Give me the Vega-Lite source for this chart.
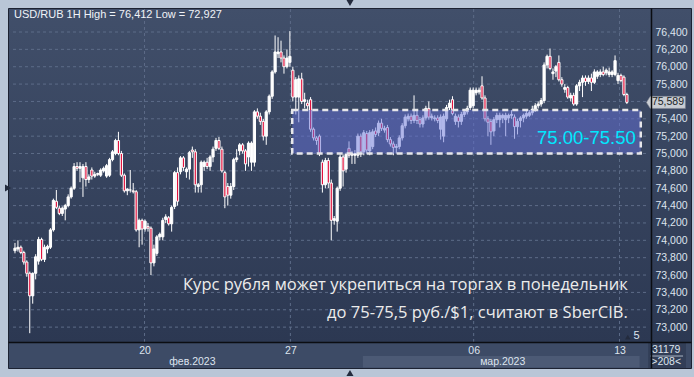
{
"$schema": "https://vega.github.io/schema/vega-lite/v6.json",
"width": 683, "height": 360,
"autosize": {"type": "none"},
"padding": {"left": 8, "top": 8, "right": 3, "bottom": 9},
"background": "#b9c6d7",
"config": {
  "view": {"stroke": "#1c2232", "strokeWidth": 1, "fill": {"gradient": "linear", "x1": 0, "y1": 0, "x2": 0, "y2": 1, "stops": [{"offset": 0, "color": "#414f6a"}, {"offset": 0.9278, "color": "#2c3852"}, {"offset": 0.9279, "color": "#3d4b66"}, {"offset": 1, "color": "#3d4b66"}]}},
  "locale": {"number": {"decimal": ",", "thousands": " ", "grouping": [3], "currency": ["", ""]}},
  "font": "Liberation Sans"
},
"resolve": {"axis": {"x": "independent", "y": "independent"}},
"datasets": {
"candles": [
{"i":0,"o":73.88,"h":73.97,"l":73.85,"c":73.91},
{"i":1,"o":73.90,"h":74.00,"l":73.87,"c":73.92},
{"i":2,"o":73.92,"h":73.94,"l":73.84,"c":73.86},
{"i":3,"o":73.86,"h":73.88,"l":73.72,"c":73.75},
{"i":4,"o":73.75,"h":73.77,"l":73.58,"c":73.62},
{"i":5,"o":73.62,"h":73.64,"l":72.93,"c":73.36},
{"i":6,"o":73.36,"h":73.63,"l":73.27,"c":73.62},
{"i":7,"o":73.62,"h":73.84,"l":73.55,"c":73.81},
{"i":8,"o":73.76,"h":74.04,"l":73.72,"c":74.01},
{"i":9,"o":74.01,"h":74.03,"l":73.76,"c":73.78},
{"i":10,"o":73.78,"h":73.95,"l":73.75,"c":73.92},
{"i":11,"o":73.90,"h":73.95,"l":73.85,"c":73.93},
{"i":12,"o":73.92,"h":74.14,"l":73.90,"c":74.12},
{"i":13,"o":74.12,"h":74.48,"l":74.10,"c":74.46},
{"i":14,"o":74.45,"h":74.58,"l":74.36,"c":74.38},
{"i":15,"o":74.37,"h":74.40,"l":74.29,"c":74.31},
{"i":16,"o":74.31,"h":74.39,"l":74.28,"c":74.37},
{"i":17,"o":74.36,"h":74.42,"l":74.23,"c":74.40},
{"i":18,"o":74.40,"h":74.53,"l":74.38,"c":74.50},
{"i":19,"o":74.50,"h":74.62,"l":74.48,"c":74.60},
{"i":20,"o":74.60,"h":74.89,"l":74.58,"c":74.85},
{"i":21,"o":74.85,"h":74.90,"l":74.80,"c":74.83},
{"i":22,"o":74.83,"h":74.90,"l":74.67,"c":74.85},
{"i":23,"o":74.72,"h":74.88,"l":74.50,"c":74.85},
{"i":24,"o":74.85,"h":74.90,"l":74.62,"c":74.70},
{"i":25,"o":74.70,"h":74.76,"l":74.66,"c":74.73},
{"i":26,"o":74.81,"h":74.84,"l":74.70,"c":74.74},
{"i":27,"o":74.74,"h":74.79,"l":74.72,"c":74.76},
{"i":28,"o":74.76,"h":74.78,"l":74.74,"c":74.77},
{"i":29,"o":74.75,"h":74.83,"l":74.73,"c":74.81},
{"i":30,"o":74.80,"h":74.85,"l":74.78,"c":74.83},
{"i":31,"o":74.74,"h":74.88,"l":74.72,"c":74.86},
{"i":32,"o":74.75,"h":74.95,"l":74.73,"c":74.93},
{"i":33,"o":74.93,"h":75.04,"l":74.91,"c":75.02},
{"i":34,"o":75.00,"h":75.17,"l":74.98,"c":75.15},
{"i":35,"o":75.15,"h":75.25,"l":74.98,"c":75.00},
{"i":36,"o":75.00,"h":75.03,"l":74.73,"c":74.75},
{"i":37,"o":74.75,"h":74.77,"l":74.55,"c":74.57},
{"i":38,"o":74.57,"h":74.60,"l":74.52,"c":74.59},
{"i":39,"o":74.58,"h":74.81,"l":74.55,"c":74.58},
{"i":40,"o":74.57,"h":74.66,"l":74.54,"c":74.56},
{"i":41,"o":74.56,"h":74.58,"l":74.10,"c":74.12},
{"i":42,"o":74.12,"h":74.25,"l":73.92,"c":74.23},
{"i":43,"o":74.23,"h":74.25,"l":73.95,"c":74.13},
{"i":44,"o":74.13,"h":74.24,"l":74.10,"c":74.22},
{"i":45,"o":74.16,"h":74.20,"l":74.10,"c":74.14},
{"i":46,"o":74.14,"h":74.16,"l":73.60,"c":73.74},
{"i":47,"o":73.74,"h":73.95,"l":73.70,"c":73.90},
{"i":48,"o":73.85,"h":74.06,"l":73.82,"c":74.04},
{"i":49,"o":74.04,"h":74.09,"l":74.00,"c":74.07},
{"i":50,"o":74.04,"h":74.26,"l":74.00,"c":74.23},
{"i":51,"o":74.24,"h":74.30,"l":74.20,"c":74.27},
{"i":52,"o":74.26,"h":74.28,"l":74.17,"c":74.19},
{"i":53,"o":74.19,"h":74.40,"l":74.10,"c":74.38},
{"i":54,"o":74.39,"h":74.80,"l":74.36,"c":74.78},
{"i":55,"o":74.78,"h":74.84,"l":74.40,"c":74.45},
{"i":56,"o":74.79,"h":74.97,"l":74.76,"c":74.95},
{"i":57,"o":74.95,"h":74.97,"l":74.80,"c":74.84},
{"i":58,"o":74.79,"h":74.84,"l":74.72,"c":74.82},
{"i":59,"o":74.82,"h":75.03,"l":74.70,"c":75.01},
{"i":60,"o":75.04,"h":75.08,"l":74.95,"c":75.02},
{"i":61,"o":75.02,"h":75.05,"l":74.55,"c":74.64},
{"i":62,"o":74.62,"h":74.66,"l":74.55,"c":74.64},
{"i":63,"o":74.64,"h":74.92,"l":74.55,"c":74.90},
{"i":64,"o":74.85,"h":74.92,"l":74.80,"c":74.90},
{"i":65,"o":74.90,"h":74.95,"l":74.82,"c":74.85},
{"i":66,"o":74.85,"h":74.98,"l":74.80,"c":74.96},
{"i":67,"o":74.96,"h":75.08,"l":74.90,"c":75.05},
{"i":68,"o":75.06,"h":75.18,"l":75.03,"c":75.15},
{"i":69,"o":75.15,"h":75.19,"l":75.04,"c":75.06},
{"i":70,"o":75.05,"h":75.08,"l":74.78,"c":74.80},
{"i":71,"o":74.78,"h":74.80,"l":74.37,"c":74.50},
{"i":72,"o":74.62,"h":74.66,"l":74.40,"c":74.52},
{"i":73,"o":74.52,"h":74.66,"l":74.48,"c":74.62},
{"i":74,"o":74.62,"h":74.95,"l":74.58,"c":74.93},
{"i":75,"o":74.93,"h":75.05,"l":74.90,"c":74.95},
{"i":76,"o":75.03,"h":75.12,"l":74.98,"c":75.10},
{"i":77,"o":75.10,"h":75.12,"l":75.00,"c":75.03},
{"i":78,"o":75.03,"h":75.05,"l":74.80,"c":74.88},
{"i":79,"o":74.96,"h":75.14,"l":74.85,"c":75.12},
{"i":80,"o":74.90,"h":75.14,"l":74.80,"c":75.12},
{"i":81,"o":74.90,"h":75.50,"l":74.85,"c":75.48},
{"i":82,"o":75.48,"h":75.52,"l":75.40,"c":75.43},
{"i":83,"o":75.43,"h":75.47,"l":75.33,"c":75.37},
{"i":84,"o":75.37,"h":75.40,"l":75.15,"c":75.20},
{"i":85,"o":75.20,"h":75.50,"l":75.10,"c":75.48},
{"i":86,"o":75.48,"h":75.68,"l":75.45,"c":75.66},
{"i":87,"o":75.66,"h":75.96,"l":75.63,"c":75.94},
{"i":88,"o":75.94,"h":76.36,"l":75.92,"c":76.17},
{"i":89,"o":76.15,"h":76.34,"l":76.10,"c":76.17},
{"i":90,"o":76.17,"h":76.30,"l":76.05,"c":76.10},
{"i":91,"o":76.10,"h":76.13,"l":75.92,"c":76.00},
{"i":92,"o":76.00,"h":76.20,"l":75.98,"c":76.10},
{"i":93,"o":76.05,"h":76.41,"l":76.00,"c":76.12},
{"i":94,"o":75.96,"h":76.00,"l":75.60,"c":75.65},
{"i":95,"o":75.65,"h":75.88,"l":75.45,"c":75.85},
{"i":96,"o":75.65,"h":75.90,"l":75.36,"c":75.86},
{"i":97,"o":75.86,"h":75.93,"l":75.57,"c":75.60},
{"i":98,"o":75.60,"h":75.70,"l":75.52,"c":75.62},
{"i":99,"o":75.58,"h":75.62,"l":75.50,"c":75.55},
{"i":100,"o":75.62,"h":75.65,"l":75.25,"c":75.28},
{"i":101,"o":75.28,"h":75.30,"l":75.15,"c":75.18},
{"i":102,"o":75.18,"h":75.20,"l":75.10,"c":75.15},
{"i":103,"o":75.20,"h":75.22,"l":74.97,"c":75.00},
{"i":104,"o":74.90,"h":74.93,"l":74.55,"c":74.64},
{"i":105,"o":74.64,"h":74.95,"l":74.60,"c":74.92},
{"i":106,"o":74.92,"h":74.95,"l":74.60,"c":74.66},
{"i":107,"o":74.66,"h":74.70,"l":74.00,"c":74.23},
{"i":108,"o":74.23,"h":74.28,"l":74.18,"c":74.25},
{"i":109,"o":74.22,"h":74.62,"l":74.10,"c":74.60},
{"i":110,"o":74.60,"h":74.99,"l":74.57,"c":74.96},
{"i":111,"o":74.96,"h":74.99,"l":74.62,"c":74.80},
{"i":112,"o":74.82,"h":75.01,"l":74.78,"c":74.99},
{"i":113,"o":75.06,"h":75.14,"l":74.95,"c":74.98},
{"i":114,"o":74.98,"h":75.03,"l":74.88,"c":75.00},
{"i":115,"o":74.98,"h":75.04,"l":74.88,"c":75.00},
{"i":116,"o":74.98,"h":75.23,"l":74.95,"c":75.20},
{"i":117,"o":75.20,"h":75.23,"l":74.96,"c":75.02},
{"i":118,"o":75.02,"h":75.27,"l":74.98,"c":75.24},
{"i":119,"o":75.23,"h":75.26,"l":75.00,"c":75.04},
{"i":120,"o":75.03,"h":75.27,"l":74.98,"c":75.24},
{"i":121,"o":75.08,"h":75.28,"l":75.05,"c":75.25},
{"i":122,"o":75.26,"h":75.30,"l":75.19,"c":75.22},
{"i":123,"o":75.24,"h":75.38,"l":75.20,"c":75.35},
{"i":124,"o":75.35,"h":75.40,"l":75.26,"c":75.29},
{"i":125,"o":75.27,"h":75.32,"l":75.24,"c":75.29},
{"i":126,"o":75.30,"h":75.33,"l":75.13,"c":75.16},
{"i":127,"o":75.16,"h":75.19,"l":75.08,"c":75.11},
{"i":128,"o":75.11,"h":75.14,"l":74.98,"c":75.07},
{"i":129,"o":75.07,"h":75.11,"l":75.00,"c":75.08},
{"i":130,"o":75.08,"h":75.21,"l":75.05,"c":75.18},
{"i":131,"o":75.18,"h":75.35,"l":75.15,"c":75.32},
{"i":132,"o":75.32,"h":75.45,"l":75.29,"c":75.42},
{"i":133,"o":75.40,"h":75.46,"l":75.37,"c":75.43},
{"i":134,"o":75.43,"h":75.46,"l":75.34,"c":75.38},
{"i":135,"o":75.38,"h":75.67,"l":75.35,"c":75.44},
{"i":136,"o":75.44,"h":75.50,"l":75.34,"c":75.38},
{"i":137,"o":75.39,"h":75.42,"l":75.30,"c":75.34},
{"i":138,"o":75.34,"h":75.44,"l":75.30,"c":75.41},
{"i":139,"o":75.41,"h":75.55,"l":75.38,"c":75.52},
{"i":140,"o":75.52,"h":75.60,"l":75.39,"c":75.42},
{"i":141,"o":75.41,"h":75.46,"l":75.38,"c":75.43},
{"i":142,"o":75.40,"h":75.44,"l":75.37,"c":75.41},
{"i":143,"o":75.41,"h":75.44,"l":75.35,"c":75.38},
{"i":144,"o":75.28,"h":75.45,"l":75.16,"c":75.42},
{"i":145,"o":75.20,"h":75.46,"l":75.13,"c":75.43},
{"i":146,"o":75.40,"h":75.56,"l":75.37,"c":75.53},
{"i":147,"o":75.53,"h":75.62,"l":75.50,"c":75.58},
{"i":148,"o":75.62,"h":75.66,"l":75.44,"c":75.46},
{"i":149,"o":75.37,"h":75.46,"l":75.33,"c":75.43},
{"i":150,"o":75.42,"h":75.45,"l":75.30,"c":75.37},
{"i":151,"o":75.37,"h":75.48,"l":75.33,"c":75.45},
{"i":152,"o":75.45,"h":75.51,"l":75.42,"c":75.48},
{"i":153,"o":75.48,"h":75.55,"l":75.45,"c":75.52},
{"i":154,"o":75.53,"h":75.76,"l":75.50,"c":75.73},
{"i":155,"o":75.55,"h":75.76,"l":75.52,"c":75.73},
{"i":156,"o":75.70,"h":75.76,"l":75.67,"c":75.73},
{"i":157,"o":75.71,"h":75.76,"l":75.68,"c":75.73},
{"i":158,"o":75.78,"h":75.89,"l":75.62,"c":75.64},
{"i":159,"o":75.64,"h":75.67,"l":75.37,"c":75.40},
{"i":160,"o":75.40,"h":75.43,"l":75.20,"c":75.36},
{"i":161,"o":75.37,"h":75.40,"l":75.10,"c":75.25},
{"i":162,"o":75.26,"h":75.42,"l":75.20,"c":75.39},
{"i":163,"o":75.39,"h":75.47,"l":75.35,"c":75.44},
{"i":164,"o":75.39,"h":75.47,"l":75.30,"c":75.44},
{"i":165,"o":75.41,"h":75.46,"l":75.35,"c":75.44},
{"i":166,"o":75.39,"h":75.47,"l":75.20,"c":75.44},
{"i":167,"o":75.41,"h":75.46,"l":75.35,"c":75.44},
{"i":168,"o":75.44,"h":75.50,"l":75.40,"c":75.45},
{"i":169,"o":75.42,"h":75.45,"l":75.17,"c":75.31},
{"i":170,"o":75.31,"h":75.40,"l":75.22,"c":75.37},
{"i":171,"o":75.38,"h":75.43,"l":75.30,"c":75.41},
{"i":172,"o":75.41,"h":75.46,"l":75.36,"c":75.44},
{"i":173,"o":75.43,"h":75.49,"l":75.40,"c":75.46},
{"i":174,"o":75.44,"h":75.50,"l":75.42,"c":75.47},
{"i":175,"o":75.47,"h":75.55,"l":75.44,"c":75.51},
{"i":176,"o":75.51,"h":75.58,"l":75.48,"c":75.55},
{"i":177,"o":75.55,"h":75.60,"l":75.52,"c":75.57},
{"i":178,"o":75.57,"h":75.64,"l":75.54,"c":75.61},
{"i":179,"o":75.61,"h":76.05,"l":75.58,"c":76.02},
{"i":180,"o":76.02,"h":76.14,"l":75.98,"c":76.12},
{"i":181,"o":76.12,"h":76.21,"l":75.96,"c":75.98},
{"i":182,"o":75.92,"h":75.98,"l":75.85,"c":75.94},
{"i":183,"o":75.95,"h":76.02,"l":75.88,"c":76.00},
{"i":184,"o":76.05,"h":76.13,"l":75.83,"c":75.85},
{"i":185,"o":75.85,"h":75.88,"l":75.77,"c":75.80},
{"i":186,"o":75.74,"h":75.80,"l":75.70,"c":75.76},
{"i":187,"o":75.76,"h":75.78,"l":75.63,"c":75.65},
{"i":188,"o":75.64,"h":75.70,"l":75.60,"c":75.67},
{"i":189,"o":75.67,"h":75.70,"l":75.55,"c":75.57},
{"i":190,"o":75.57,"h":75.80,"l":75.55,"c":75.78},
{"i":191,"o":75.78,"h":75.85,"l":75.72,"c":75.82},
{"i":192,"o":75.82,"h":75.90,"l":75.65,"c":75.87},
{"i":193,"o":75.87,"h":75.90,"l":75.78,"c":75.83},
{"i":194,"o":75.83,"h":75.90,"l":75.80,"c":75.87},
{"i":195,"o":75.87,"h":75.92,"l":75.72,"c":75.82},
{"i":196,"o":75.82,"h":75.97,"l":75.80,"c":75.94},
{"i":197,"o":75.89,"h":75.96,"l":75.86,"c":75.94},
{"i":198,"o":75.91,"h":75.97,"l":75.88,"c":75.94},
{"i":199,"o":75.94,"h":76.00,"l":75.89,"c":75.91},
{"i":200,"o":75.93,"h":75.98,"l":75.90,"c":75.96},
{"i":201,"o":75.91,"h":75.99,"l":75.88,"c":75.94},
{"i":202,"o":75.91,"h":75.96,"l":75.88,"c":75.94},
{"i":203,"o":75.91,"h":76.13,"l":75.89,"c":76.07},
{"i":204,"o":75.84,"h":75.93,"l":75.80,"c":75.90},
{"i":205,"o":75.90,"h":75.92,"l":75.82,"c":75.84},
{"i":206,"o":75.88,"h":75.90,"l":75.66,"c":75.68},
{"i":207,"o":75.68,"h":75.70,"l":75.57,"c":75.589}
],
"hgrid": [73.0,73.2,73.4,73.6,73.8,74.0,74.2,74.4,74.6,74.8,75.0,75.2,75.4,75.6,75.8,76.0,76.2,76.4],
"vgrid": [43.83,93.17,155.17,204.5],
"zone": [{"lo":75.0,"hi":75.5,"label":"75.00-75.50"}]
},
"layer": [
{
 "data": {"name": "hgrid"},
 "mark": {"type": "rule", "stroke": "#5d6c88", "strokeWidth": 1, "strokeDash": [3, 3]},
 "encoding": {
  "y": {"field": "data", "type": "quantitative", "scale": {"domain": [72.529, 76.6765], "nice": false, "zero": false}, "axis": null},
  "x": {"datum": -0.667, "type": "quantitative", "scale": {"domain": [-0.667, 227], "nice": false, "zero": false}, "axis": null},
  "x2": {"datum": 213.667}
 }
},
{
 "data": {"name": "vgrid"},
 "mark": {"type": "rule", "stroke": "#5d6c88", "strokeWidth": 1, "strokeDash": [3, 3]},
 "encoding": {
  "x": {"field": "data", "type": "quantitative", "scale": {"domain": [-0.667, 227], "nice": false, "zero": false}, "axis": null},
  "y": {"datum": 72.8286, "type": "quantitative", "scale": {"domain": [72.529, 76.6765], "nice": false, "zero": false}, "axis": null},
  "y2": {"datum": 76.6765}
 }
},
{
 "data": {"name": "candles"},
 "mark": {"type": "rule", "stroke": "#ffffff", "strokeWidth": 1},
 "encoding": {
  "x": {"field": "i", "type": "quantitative", "scale": {"domain": [-0.667, 227], "nice": false, "zero": false}, "axis": null},
  "y": {"field": "l", "type": "quantitative", "scale": {"domain": [72.529, 76.6765], "nice": false, "zero": false}, "axis": null},
  "y2": {"field": "h"}
 }
},
{
 "data": {"name": "candles"},
 "mark": {"type": "bar", "size": 2.2, "stroke": "#ffffff", "strokeWidth": 1},
 "encoding": {
  "x": {"field": "i", "type": "quantitative", "scale": {"domain": [-0.667, 227], "nice": false, "zero": false},
        "axis": {"orient": "bottom", "offset": -26, "values": [43.83, 93.17, 155.17, 204.5], "labelExpr": "datum.value < 60 ? '20' : datum.value < 120 ? '27' : datum.value < 180 ? '06' : '13'", "title": null, "grid": false, "ticks": false, "domain": true, "domainColor": "#0b0d12", "domainWidth": 1.5, "labelColor": "#dde4ee", "labelFontSize": 10.5, "labelPadding": 3, "labelOverlap": false, "labelFlush": false, "zindex": 5}},
  "y": {"field": "o", "type": "quantitative", "scale": {"domain": [72.529, 76.6765], "nice": false, "zero": false},
        "axis": {"orient": "right", "offset": -40, "values": [73.0,73.2,73.4,73.6,73.8,74.0,74.2,74.4,74.6,74.8,75.0,75.2,75.4,75.8,76.0,76.2,76.4], "format": ".3f", "title": null, "grid": false, "ticks": false, "domain": true, "domainColor": "#0b0d12", "domainWidth": 1.5, "labelColor": "#dde4ee", "labelFontSize": 10.5, "labelPadding": 4, "labelOverlap": false, "labelFlush": false, "zindex": 5}},
  "y2": {"field": "c"},
  "fill": {"condition": {"test": "datum.c < datum.o", "value": "#e3123d"}, "value": "#ffffff"}
 }
},
{
 "data": {"name": "zone"},
 "mark": {"type": "rect", "fill": "#6470d8", "fillOpacity": 0.5, "stroke": "#e6e6ea", "strokeWidth": 2.5, "strokeDash": [6, 4]},
 "encoding": {
  "x": {"datum": 93.8, "type": "quantitative", "scale": {"domain": [-0.667, 227], "nice": false, "zero": false}, "axis": null},
  "x2": {"datum": 211.7},
  "y": {"field": "lo", "type": "quantitative", "scale": {"domain": [72.529, 76.6765], "nice": false, "zero": false}, "axis": null},
  "y2": {"field": "hi"}
 }
},
{
 "data": {"name": "zone"},
 "mark": {"type": "text", "align": "right", "baseline": "middle", "fontSize": 18.5, "font": "Liberation Sans", "fill": "#00e8ff"},
 "encoding": {
  "x": {"datum": 210, "type": "quantitative", "scale": {"domain": [-0.667, 227], "nice": false, "zero": false}, "axis": null},
  "y": {"datum": 75.179, "type": "quantitative", "scale": {"domain": [72.529, 76.6765], "nice": false, "zero": false}, "axis": null},
  "text": {"field": "label"}
 }
},
{
 "data": {"values": [{}]},
 "mark": {"type": "text", "align": "right", "baseline": "middle", "fontSize": 16.5, "font": "Open Sans", "fill": "#ececec", "text": "Курс рубля может укрепиться на торгах в понедельник"},
 "encoding": {
  "x": {"datum": 207.3, "type": "quantitative", "scale": {"domain": [-0.667, 227], "nice": false, "zero": false}, "axis": null},
  "y": {"datum": 73.485, "type": "quantitative", "scale": {"domain": [72.529, 76.6765], "nice": false, "zero": false}, "axis": null}
 }
},
{
 "data": {"values": [{}]},
 "mark": {"type": "text", "align": "right", "baseline": "middle", "fontSize": 16.5, "font": "Open Sans", "fill": "#ececec", "text": "до 75-75,5 руб./$1, считают в SberCIB."},
 "encoding": {
  "x": {"datum": 207.3, "type": "quantitative", "scale": {"domain": [-0.667, 227], "nice": false, "zero": false}, "axis": null},
  "y": {"datum": 73.163, "type": "quantitative", "scale": {"domain": [72.529, 76.6765], "nice": false, "zero": false}, "axis": null}
 }
},
{
 "data": {"values": [{}]},
 "mark": {"type": "text", "align": "left", "baseline": "middle", "fontSize": 11, "font": "Liberation Sans", "fill": "#f0f3f8", "text": "USD/RUB 1H High = 76,412 Low = 72,927"},
 "encoding": {
  "x": {"datum": -0.33, "type": "quantitative", "scale": {"domain": [-0.667, 227], "nice": false, "zero": false}, "axis": null},
  "y": {"datum": 76.596, "type": "quantitative", "scale": {"domain": [72.529, 76.6765], "nice": false, "zero": false}, "axis": null}
 }
},
{
 "data": {"values": [{}]},
 "mark": {"type": "rect", "fill": "#4c5a75"},
 "encoding": {
  "x": {"datum": 117.7, "type": "quantitative", "scale": {"domain": [-0.667, 227], "nice": false, "zero": false}, "axis": null},
  "x2": {"datum": 211.3},
  "y": {"datum": 72.667, "type": "quantitative", "scale": {"domain": [72.529, 76.6765], "nice": false, "zero": false}, "axis": null},
  "y2": {"datum": 72.535}
 }
},
{
 "data": {"values": [{}]},
 "mark": {"type": "rect", "fill": "#323e57"},
 "encoding": {
  "x": {"datum": 214.2, "type": "quantitative", "scale": {"domain": [-0.667, 227], "nice": false, "zero": false}, "axis": null},
  "x2": {"datum": 227},
  "y": {"datum": 72.82, "type": "quantitative", "scale": {"domain": [72.529, 76.6765], "nice": false, "zero": false}, "axis": null},
  "y2": {"datum": 72.529}
 }
},
{
 "data": {"values": [{}]},
 "mark": {"type": "text", "align": "center", "baseline": "middle", "fontSize": 10.5, "fill": "#dde4ee", "text": "фев.2023"},
 "encoding": {
  "x": {"datum": 60, "type": "quantitative", "scale": {"domain": [-0.667, 227], "nice": false, "zero": false}, "axis": null},
  "y": {"datum": 72.598, "type": "quantitative", "scale": {"domain": [72.529, 76.6765], "nice": false, "zero": false}, "axis": null}
 }
},
{
 "data": {"values": [{}]},
 "mark": {"type": "text", "align": "center", "baseline": "middle", "fontSize": 10.5, "fill": "#dde4ee", "text": "мар.2023"},
 "encoding": {
  "x": {"datum": 165, "type": "quantitative", "scale": {"domain": [-0.667, 227], "nice": false, "zero": false}, "axis": null},
  "y": {"datum": 72.598, "type": "quantitative", "scale": {"domain": [72.529, 76.6765], "nice": false, "zero": false}, "axis": null}
 }
},
{
 "data": {"values": [{}]},
 "mark": {"type": "text", "align": "center", "baseline": "middle", "fontSize": 10.5, "fill": "#dde4ee", "text": "31179"},
 "encoding": {
  "x": {"datum": 220.3, "type": "quantitative", "scale": {"domain": [-0.667, 227], "nice": false, "zero": false}, "axis": null},
  "y": {"datum": 72.7364, "type": "quantitative", "scale": {"domain": [72.529, 76.6765], "nice": false, "zero": false}, "axis": null}
 }
},
{
 "data": {"values": [{}]},
 "mark": {"type": "text", "align": "center", "baseline": "middle", "fontSize": 10.5, "fill": "#dde4ee", "text": ">208<"},
 "encoding": {
  "x": {"datum": 220.3, "type": "quantitative", "scale": {"domain": [-0.667, 227], "nice": false, "zero": false}, "axis": null},
  "y": {"datum": 72.598, "type": "quantitative", "scale": {"domain": [72.529, 76.6765], "nice": false, "zero": false}, "axis": null}
 }
},
{
 "data": {"values": [{}]},
 "mark": {"type": "rule", "stroke": "#aab4c4", "strokeWidth": 1},
 "encoding": {
  "x": {"datum": 215, "type": "quantitative", "scale": {"domain": [-0.667, 227], "nice": false, "zero": false}, "axis": null},
  "x2": {"datum": 226},
  "y": {"datum": 72.667, "type": "quantitative", "scale": {"domain": [72.529, 76.6765], "nice": false, "zero": false}, "axis": null}
 }
},
{
 "data": {"values": [{}]},
 "mark": {"type": "text", "align": "center", "baseline": "middle", "fontSize": 11, "fill": "#dde4ee", "text": "5"},
 "encoding": {
  "x": {"datum": 210.3, "type": "quantitative", "scale": {"domain": [-0.667, 227], "nice": false, "zero": false}, "axis": null},
  "y": {"datum": 72.898, "type": "quantitative", "scale": {"domain": [72.529, 76.6765], "nice": false, "zero": false}, "axis": null}
 }
},
{
 "data": {"values": [{}]},
 "mark": {"type": "point", "shape": "triangle-up", "size": 30, "filled": true, "fill": "#232b3d", "opacity": 1},
 "encoding": {
  "x": {"datum": 207.3, "type": "quantitative", "scale": {"domain": [-0.667, 227], "nice": false, "zero": false}, "axis": null},
  "y": {"datum": 72.886, "type": "quantitative", "scale": {"domain": [72.529, 76.6765], "nice": false, "zero": false}, "axis": null}
 }
},
{
 "data": {"name": "candles"},
 "transform": [{"filter": "datum.i == 207"}],
 "mark": {"type": "point", "shape": "M-1,0L-0.8,-0.31L1,-0.31L1,0.31L-0.8,0.31Z", "size": 1521, "filled": true, "fill": "#c9cdd3", "stroke": "#7d838e", "strokeWidth": 0.6, "opacity": 1},
 "encoding": {
  "x": {"datum": 220.2, "type": "quantitative", "scale": {"domain": [-0.667, 227], "nice": false, "zero": false}, "axis": null},
  "y": {"field": "c", "type": "quantitative", "scale": {"domain": [72.529, 76.6765], "nice": false, "zero": false}, "axis": null}
 }
},
{
 "data": {"name": "candles"},
 "transform": [{"filter": "datum.i == 207"}],
 "mark": {"type": "text", "align": "center", "baseline": "middle", "fontSize": 10.5, "fill": "#1b1f27"},
 "encoding": {
  "x": {"datum": 220.9, "type": "quantitative", "scale": {"domain": [-0.667, 227], "nice": false, "zero": false}, "axis": null},
  "y": {"field": "c", "type": "quantitative", "scale": {"domain": [72.529, 76.6765], "nice": false, "zero": false}, "axis": null},
  "text": {"field": "c", "type": "quantitative", "format": ".3f"}
 }
},
{
 "data": {"values": [{}]},
 "mark": {"type": "point", "shape": "triangle-down", "size": 50, "filled": true, "fill": "#232b3d", "opacity": 1},
 "encoding": {
  "x": {"datum": 113.33, "type": "quantitative", "scale": {"domain": [-0.667, 227], "nice": false, "zero": false}, "axis": null},
  "y": {"datum": 76.734, "type": "quantitative", "scale": {"domain": [72.529, 76.6765], "nice": false, "zero": false}, "axis": null}
 }
},
{
 "data": {"values": [{}]},
 "mark": {"type": "point", "shape": "triangle-up", "size": 50, "filled": true, "fill": "#232b3d", "opacity": 1},
 "encoding": {
  "x": {"datum": 113.33, "type": "quantitative", "scale": {"domain": [-0.667, 227], "nice": false, "zero": false}, "axis": null},
  "y": {"datum": 72.471, "type": "quantitative", "scale": {"domain": [72.529, 76.6765], "nice": false, "zero": false}, "axis": null}
 }
},
{
 "data": {"values": [{}]},
 "mark": {"type": "point", "shape": "triangle-right", "size": 50, "filled": true, "fill": "#232b3d", "opacity": 1},
 "encoding": {
  "x": {"datum": -2.33, "type": "quantitative", "scale": {"domain": [-0.667, 227], "nice": false, "zero": false}, "axis": null},
  "y": {"datum": 74.603, "type": "quantitative", "scale": {"domain": [72.529, 76.6765], "nice": false, "zero": false}, "axis": null}
 }
}
]
}
